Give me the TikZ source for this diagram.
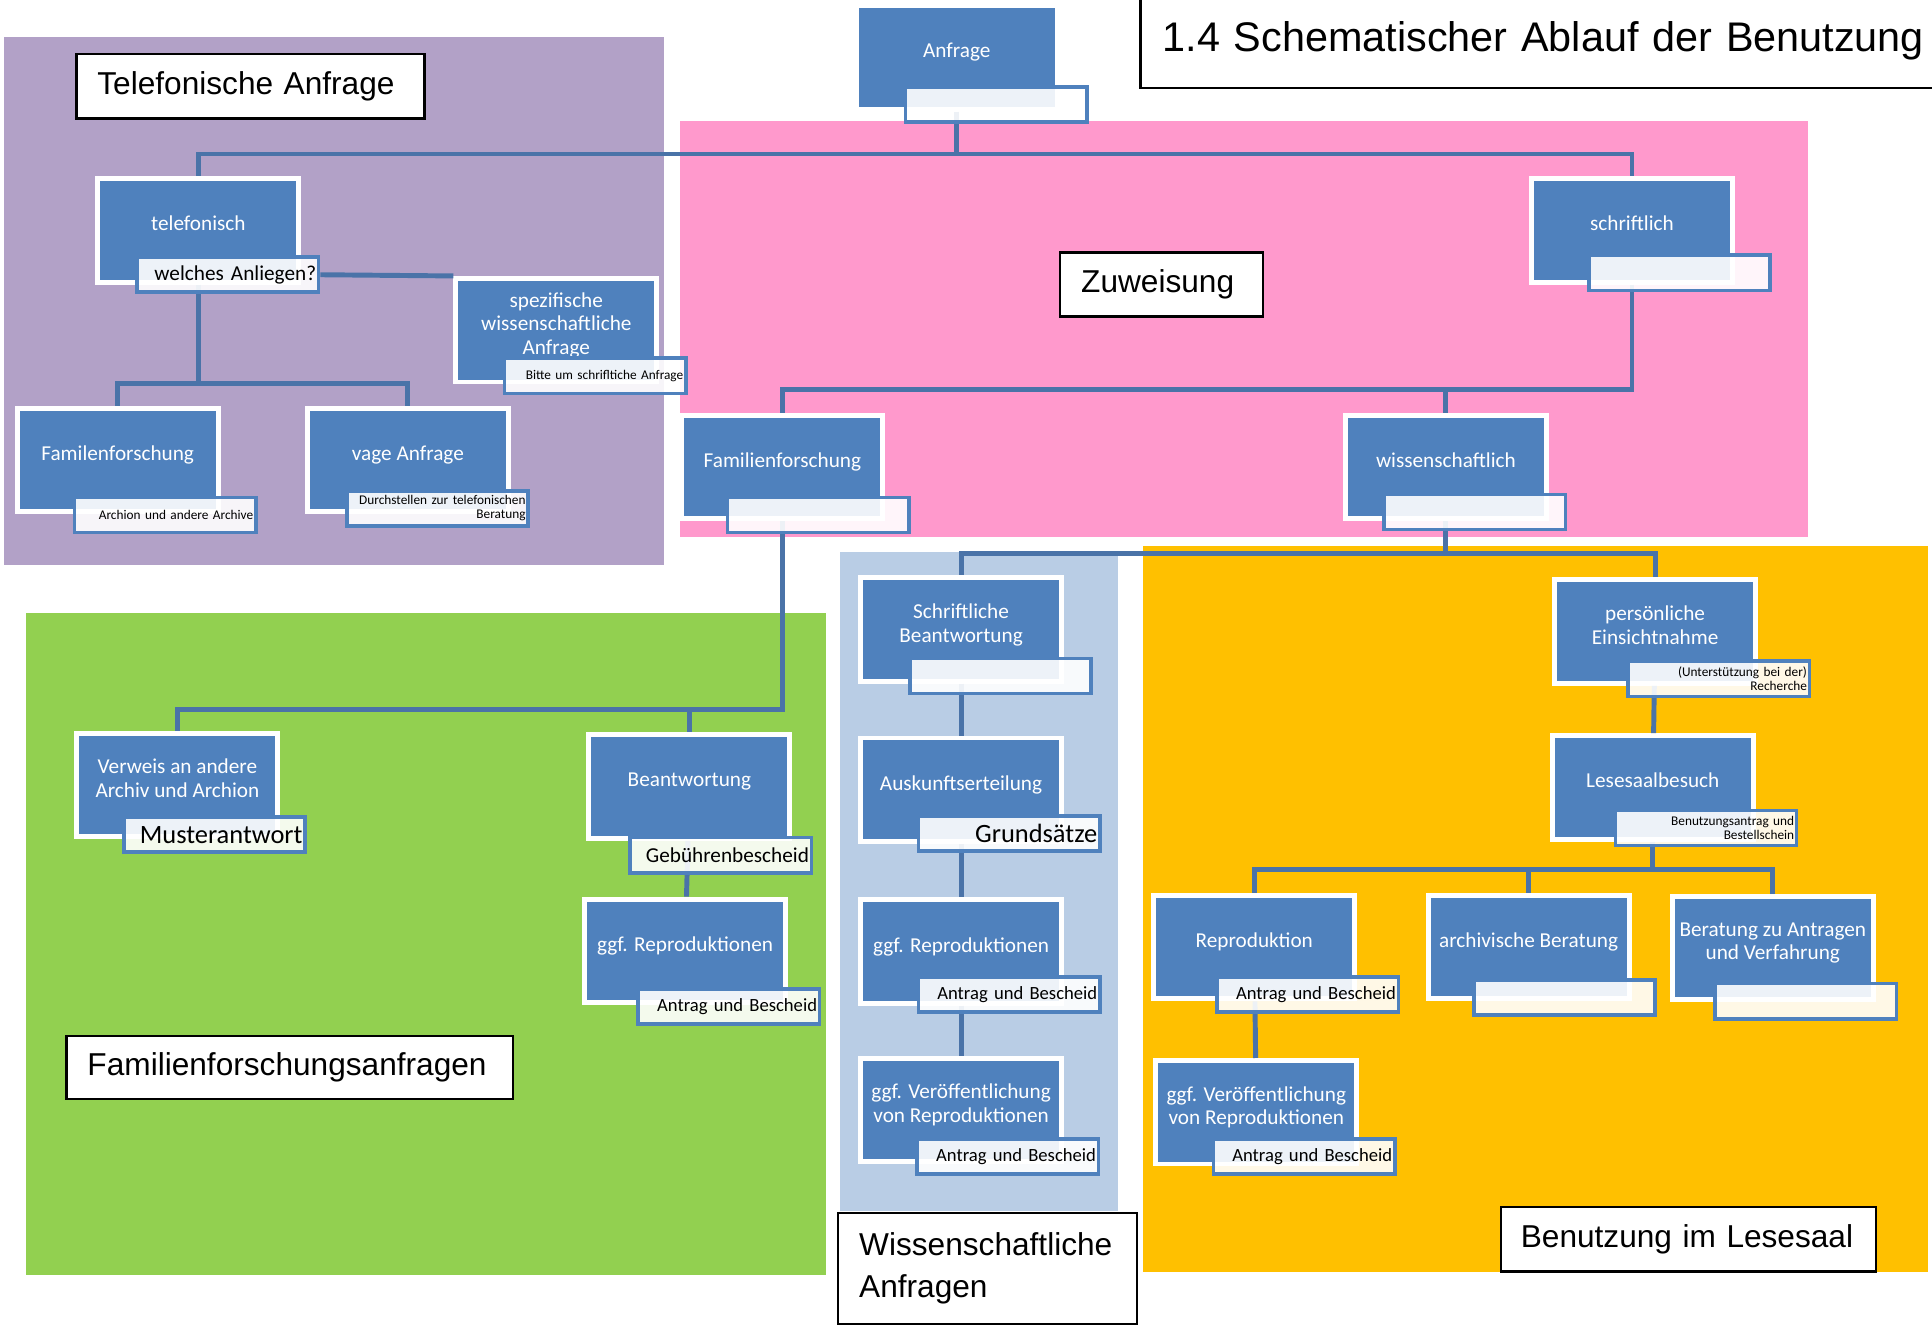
\documentclass[tikz,border=0pt]{standalone}
\usepackage{fontspec}
\setmainfont{Liberation Sans}
\newfontfamily\calibri{Carlito}
\usepackage{tikz}
\definecolor{telpurple}{HTML}{B2A1C7}
\definecolor{zupink}{HTML}{FF99CC}
\definecolor{famgreen}{HTML}{92D050}
\definecolor{wisblue}{HTML}{B9CDE5}
\definecolor{lesegold}{HTML}{FFC000}
\definecolor{boxblue}{HTML}{4F81BD}
\definecolor{lineblue}{HTML}{4A73A8}

\begin{document}
\begin{tikzpicture}[x=0.01cm, y=-0.01cm,
  hbox/.style={fill=boxblue, draw=white, line width=0.04cm, minimum width=1.63cm, minimum height=0.84cm,
    inner sep=0pt, text=white, align=center, text depth=0.11cm, font=\calibri\fontsize{4.9}{5.45}\selectfont},
  hlabel/.style={fill=white, fill opacity=0.9, text opacity=1, draw=boxblue, line width=0.03cm,
    text width=1.43cm, inner xsep=0.02cm, inner ysep=0pt, minimum height=0.285cm, align=right,
    font=\calibri\fontsize{4.9}{5.45}\selectfont},
  lbtiny/.style={font=\calibri\fontsize{3.07}{3.25}\selectfont},
  lbsmall/.style={font=\calibri\fontsize{4.3}{5}\selectfont},
  lbbig/.style={font=\calibri\fontsize{6.1}{7}\selectfont},
  secbox/.style={draw=black, fill=white, line width=0.02cm, inner xsep=0.17cm, inner ysep=0pt,
    align=left, anchor=north west, font=\fontsize{7.3}{9.7}\selectfont},
  conn/.style={draw=lineblue, line width=0.04cm}]

  \useasboundingbox (0,0) rectangle (1568,1077);
  \clip (0,0) rectangle (1568,1077);
  \fill[white] (0,0) rectangle (1568,1077);

  % Coloured areas
  \fill[telpurple] (3,30) rectangle (539,458.5);
  \fill[zupink] (552,98.6) rectangle (1467.5,436);
  \fill[famgreen] (21,497.3) rectangle (670,1035);
  \fill[wisblue] (682,447.8) rectangle (907.5,982.6);
  \fill[lesegold] (927.4,443) rectangle (1564.5,1032);

  % Title
  \node[secbox, font=\fontsize{9.55}{11}\selectfont, inner xsep=0.18cm, text width=7cm, minimum height=0.769cm]
    (title) at (924.6,-6.7) {\mbox{1.4 Schematischer Ablauf der Benutzung}};

  % Boxes (blue)
  \node[hbox] (anfrage) at (776.5,46.5) {Anfrage};
  \node[hbox] (telef) at (161,187) {telefonisch};
  \node[hbox] (spez) at (451.5,268) {spezifische\\wissenschaftliche\\Anfrage};
  \node[hbox] (famtel) at (95.5,373.5) {Familenforschung};
  \node[hbox] (vage) at (331,373.5) {vage Anfrage};
  \node[hbox] (schrift) at (1324.5,187) {schriftlich};
  \node[hbox] (famzu) at (635,379) {Familienforschung};
  \node[hbox] (wiss) at (1173.5,379) {wissenschaftlich};
  \node[hbox] (verweis) at (144,637) {Verweis an andere\\Archiv und Archion};
  \node[hbox] (beant) at (559.5,638.5) {Beantwortung};
  \node[hbox] (reprofam) at (556,771.7) {ggf. Reproduktionen};
  \node[hbox] (schrbeant) at (780,511) {Schriftliche\\Beantwortung};
  \node[hbox] (auskunft) at (780,641) {Auskunftserteilung};
  \node[hbox] (reprowiss) at (780,772.4) {ggf. Reproduktionen};
  \node[hbox] (veroewiss) at (780,901) {ggf. Veröffentlichung\\von Reproduktionen};
  \node[hbox] (persoen) at (1343.3,512.7) {persönliche\\Einsichtnahme};
  \node[hbox] (lesesaal) at (1341.4,639) {Lesesaalbesuch};
  \node[hbox] (repro) at (1018,768.7) {Reproduktion};
  \node[hbox] (archiv) at (1240.6,768.7) {archivische Beratung};
  \node[hbox] (beratung) at (1438.8,769.4) {Beratung zu Antragen\\und Verfahrung};
  \node[hbox] (veroelese) at (1019.6,902.7) {ggf. Veröffentlichung\\von Reproduktionen};

  % Connectors (behind the labels)
  \coordinate (j0) at (776.5,125);
  \coordinate (j1) at (161,311);
  \coordinate (j2) at (1324.5,316.5);
  \coordinate (j3) at (635,575.7);
  \coordinate (j4) at (1173.5,449);
  \coordinate (j5) at (1341.4,706);
  \draw[conn] (anfrage) -- (j0) -| (telef);
  \draw[conn] (j0) -| (schrift);
  \draw[conn] (telef) -- (j1) -| (famtel);
  \draw[conn] (j1) -| (vage);
  \draw[conn] (schrift) -- (j2) -| (famzu);
  \draw[conn] (j2) -| (wiss);
  \draw[conn] (famzu) -- (j3) -| (verweis);
  \draw[conn] (j3) -| (beant);
  \draw[conn] (beant) -- (reprofam);
  \draw[conn] (wiss) -- (j4) -| (schrbeant);
  \draw[conn] (j4) -| (persoen);
  \draw[conn] (schrbeant) -- (auskunft);
  \draw[conn] (auskunft) -- (reprowiss);
  \draw[conn] (reprowiss) -- (veroewiss);
  \draw[conn] (persoen) -- (lesesaal);
  \draw[conn] (lesesaal) -- (j5) -| (repro);
  \draw[conn] (j5) -| (archiv);
  \draw[conn] (j5) -| (beratung);
  \draw[conn] (repro) -- (veroelese);

  % Labels on the boxes
  \node[hlabel] (anfrage-l) at (808.5,85) {};
  \node[hlabel] (telef-l) at (185,223) {welches Anliegen?};
  \node[hlabel, lbtiny] (spez-l) at (483,305) {Bitte um schrifltiche Anfrage};
  \node[hlabel, lbtiny] (famtel-l) at (134,418) {Archion und andere Archive};
  \node[hlabel, lbtiny] (vage-l) at (355,412.5) {Durchstellen zur telefonischen\\Beratung};
  \node[hlabel] (schrift-l) at (1363,221.5) {};
  \node[hlabel] (famzu-l) at (664,418) {};
  \node[hlabel] (wiss-l) at (1197,415.5) {};
  \node[hlabel, lbbig] (verweis-l) at (174,677.5) {Musterantwort};
  \node[hlabel] (beant-l) at (585,694) {Gebührenbescheid};
  \node[hlabel, lbsmall] (reprofam-l) at (591.6,817) {Antrag und Bescheid};
  \node[hlabel] (schrbeant-l) at (812,548.7) {};
  \node[hlabel, lbbig] (auskunft-l) at (819,676.6) {Grundsätze};
  \node[hlabel, lbsmall] (reprowiss-l) at (819,807) {Antrag und Bescheid};
  \node[hlabel, lbsmall] (veroewiss-l) at (818,938.7) {Antrag und Bescheid};
  \node[hlabel, lbtiny] (persoen-l) at (1395,551) {(Unterstützung bei der)\\Recherche};
  \node[hlabel, lbtiny] (lesesaal-l) at (1384.6,672) {Benutzungsantrag und\\Bestellschein};
  \node[hlabel, lbsmall] (repro-l) at (1061.4,807) {Antrag und Bescheid};
  \node[hlabel] (archiv-l) at (1269.7,809.6) {};
  \node[hlabel] (beratung-l) at (1465.6,812.6) {};
  \node[hlabel, lbsmall] (veroelese-l) at (1058.4,938.7) {Antrag und Bescheid};

  % Link telefonisch -> spezifische Anfrage
  \draw[conn] (telef-l.east) -- (spez.north west);

  % Area captions
  \node[secbox, text width=2.485cm, minimum height=0.522cm] (telsec) at (61,43) {\mbox{Telefonische Anfrage}};
  \node[secbox, text width=1.305cm, minimum height=0.519cm] (zusec) at (859.5,203.8) {Zuweisung};
  \node[secbox, text width=3.28cm, minimum height=0.51cm] (famsec) at (53,840) {Familienforschungsanfragen};
  \node[secbox, text width=2.085cm, minimum height=0.90cm] (wissec) at (679.3,983.4) {Wissenschaftliche\\Anfragen};
  \node[secbox, inner xsep=0.16cm, text width=2.72cm, minimum height=0.52cm] (lesesec) at (1217.3,978.8) {\mbox{Benutzung im Lesesaal}};
\end{tikzpicture}
\end{document}
